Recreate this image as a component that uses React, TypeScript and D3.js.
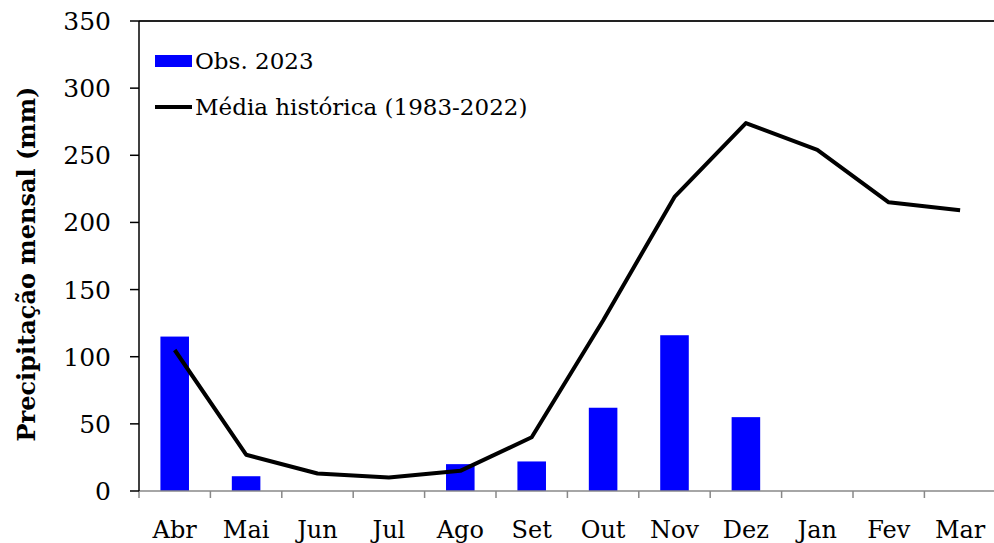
import React from 'react';
import * as d3 from 'd3';

const months = ['Abr', 'Mai', 'Jun', 'Jul', 'Ago', 'Set', 'Out', 'Nov', 'Dez', 'Jan', 'Fev', 'Mar'];
const obs2023: (number | null)[] = [115, 11, null, null, 20, 22, 62, 116, 55, null, null, null];
const mediaHistorica = [105, 27, 13, 10, 15, 40, 127, 219, 274, 254, 215, 209];
const yTicks = [0, 50, 100, 150, 200, 250, 300, 350];

const W = 994;
const H = 543;
const margin = { top: 21, right: 0, bottom: 52, left: 139 };
const FONT = "'DejaVu Serif', serif";

const App: React.FC = () => {
  const x = d3
    .scaleBand<string>()
    .domain(months)
    .range([margin.left, margin.left + 71.4 * 12]);
  const y = d3.scaleLinear().domain([0, 350]).range([H - margin.bottom, margin.top]);

  const barW = x.bandwidth() * 0.4;
  const line = d3
    .line<number>()
    .x((_, i) => (x(months[i]) ?? 0) + x.bandwidth() / 2)
    .y((d) => y(d));

  const y0 = y(0);

  return (
    <svg width={W} height={H} style={{ position: 'absolute', left: 0, top: 0, background: '#fff' }}>
      {/* top border */}
      <line x1={margin.left} x2={W} y1={y(350)} y2={y(350)} stroke="#222" strokeWidth={2} />

      {/* bars */}
      {obs2023.map((v, i) =>
        v == null ? null : (
          <rect
            key={months[i]}
            x={(x(months[i]) ?? 0) + (x.bandwidth() - barW) / 2}
            y={y(v)}
            width={barW}
            height={y0 - y(v)}
            fill="#0000ff"
          />
        )
      )}

      {/* x axis */}
      <line x1={margin.left} x2={W} y1={y0} y2={y0} stroke="#888" strokeWidth={1.5} />
      {months.map((m) => (
        <line
          key={'t' + m}
          x1={x(m) ?? 0}
          x2={x(m) ?? 0}
          y1={y0}
          y2={y0 + 7}
          stroke="#888"
          strokeWidth={1.5}
        />
      ))}
      {months.map((m) => (
        <text
          key={'l' + m}
          x={(x(m) ?? 0) + x.bandwidth() / 2}
          y={y0 + 47}
          textAnchor="middle"
          fontFamily={FONT}
          fontSize={24}
          fill="#000"
        >
          {m}
        </text>
      ))}

      {/* line */}
      <path d={line(mediaHistorica) ?? ''} fill="none" stroke="#000" strokeWidth={4} strokeLinejoin="round" />

      {/* y axis */}
      <line x1={margin.left} x2={margin.left} y1={y(350)} y2={y0} stroke="#000" strokeWidth={1.5} />
      {yTicks.map((t) => (
        <g key={'y' + t}>
          <line x1={margin.left - 9} x2={margin.left} y1={y(t)} y2={y(t)} stroke="#000" strokeWidth={1.5} />
          <text
            x={111}
            y={y(t)}
            dy="0.36em"
            textAnchor="end"
            fontFamily={FONT}
            fontSize={25}
            fill="#000"
          >
            {t}
          </text>
        </g>
      ))}

      <text
        transform={`translate(35,${(y(350) + y0) / 2 + 8}) rotate(-90)`}
        textAnchor="middle"
        fontFamily={FONT}
        fontSize={24}
        fontWeight="bold"
        fill="#000"
      >
        Precipitação mensal (mm)
      </text>

      {/* legend */}
      <rect x={155} y={55} width={37} height={12} fill="#0000ff" />
      <text x={195} y={69} fontFamily={FONT} fontSize={23} fill="#000">
        Obs. 2023
      </text>
      <line x1={155} x2={192} y1={107} y2={107} stroke="#000" strokeWidth={4} />
      <text x={195} y={115} fontFamily={FONT} fontSize={23} fill="#000">
        Média histórica (1983-2022)
      </text>
    </svg>
  );
};

export default App;
